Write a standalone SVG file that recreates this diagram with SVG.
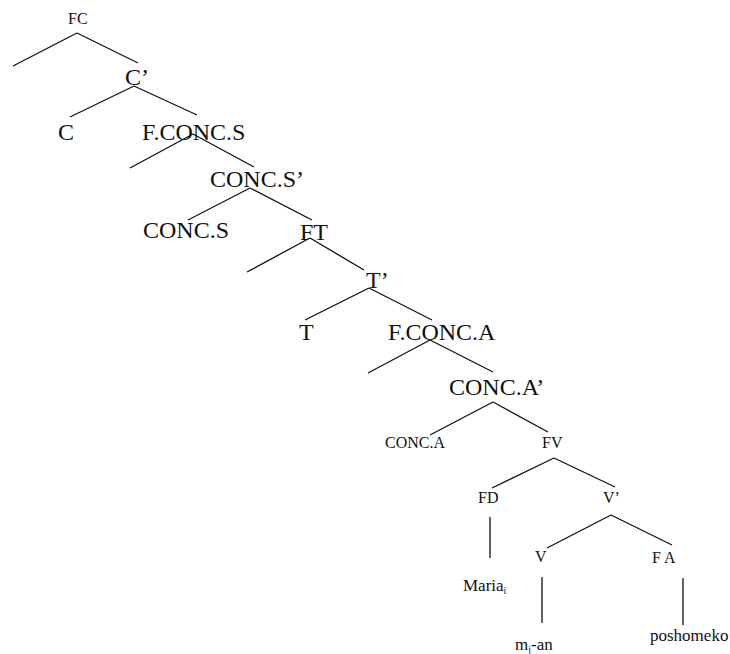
<svg xmlns="http://www.w3.org/2000/svg" width="730" height="654" viewBox="0 0 730 654">
<style>
.b{font-size:24px}
.s{font-size:16px}
.w{font-size:17px}
.sub{font-size:10px}
#edges line{stroke:#111;stroke-width:1.3;fill:none}
</style>
<rect width="730" height="654" fill="#fff"/>
<g id="edges">
<line x1="77" y1="33" x2="13" y2="66"/>
<line x1="77" y1="33" x2="138" y2="63"/>
<line x1="134" y1="86" x2="70" y2="117"/>
<line x1="134" y1="86" x2="197" y2="115"/>
<line x1="193" y1="134" x2="130" y2="168"/>
<line x1="193" y1="134" x2="254" y2="167"/>
<line x1="250" y1="188" x2="188" y2="220"/>
<line x1="250" y1="188" x2="312" y2="220"/>
<line x1="310" y1="238" x2="247" y2="272"/>
<line x1="310" y1="238" x2="364" y2="270"/>
<line x1="369" y1="288" x2="305" y2="320"/>
<line x1="369" y1="288" x2="432" y2="320"/>
<line x1="430" y1="340" x2="368" y2="373"/>
<line x1="430" y1="340" x2="493" y2="372"/>
<line x1="493" y1="402" x2="430" y2="435"/>
<line x1="493" y1="402" x2="548" y2="432"/>
<line x1="554" y1="458" x2="492" y2="488"/>
<line x1="554" y1="458" x2="615" y2="487"/>
<line x1="490" y1="517" x2="490" y2="558"/>
<line x1="611" y1="515" x2="547" y2="548"/>
<line x1="611" y1="515" x2="672" y2="545"/>
<line x1="542" y1="577" x2="542" y2="623"/>
<line x1="683" y1="578" x2="683" y2="625"/>
</g>
<g font-family="'Liberation Serif', 'Times New Roman', Times, serif" fill="#111">
<g id="n-FC"><text class="s" x="68" y="24">FC</text></g>
<g id="n-Cbar"><text class="b" x="125" y="85">C’</text></g>
<g id="n-C"><text class="b" x="58" y="140">C</text></g>
<g id="n-FCONCS"><text class="b" x="142" y="140">F.CONC.S</text></g>
<g id="n-CONCSbar"><text class="b" x="210" y="187">CONC.S’</text></g>
<g id="n-CONCS"><text class="b" x="143" y="238">CONC.S</text></g>
<g id="n-FT"><text class="b" x="300" y="240">FT</text></g>
<g id="n-Tbar"><text class="b" x="366" y="288">T’</text></g>
<g id="n-T"><text class="b" x="299" y="340">T</text></g>
<g id="n-FCONCA"><text class="b" x="388" y="340">F.CONC.A</text></g>
<g id="n-CONCAbar"><text class="b" x="449" y="395">CONC.A’</text></g>
<g id="n-CONCA"><text class="s" x="385" y="448">CONC.A</text></g>
<g id="n-FV"><text class="s" x="542" y="448">FV</text></g>
<g id="n-FD"><text class="s" x="478" y="503">FD</text></g>
<g id="n-Vbar"><text class="s" x="603" y="503">V’</text></g>
<g id="n-V"><text class="s" x="535" y="562">V</text></g>
<g id="n-FA"><text class="s" x="652" y="563">F A</text></g>
<g id="n-Maria"><text class="w" x="463" y="591">Maria<tspan class="sub" dy="3">i</tspan></text></g>
<g id="n-mjan"><text class="w" x="515" y="650">m<tspan class="sub" dy="3">j</tspan><tspan dy="-3">-an</tspan></text></g>
<g id="n-poshomeko"><text class="w" x="650" y="641">poshomeko</text></g>
</g>
</svg>
